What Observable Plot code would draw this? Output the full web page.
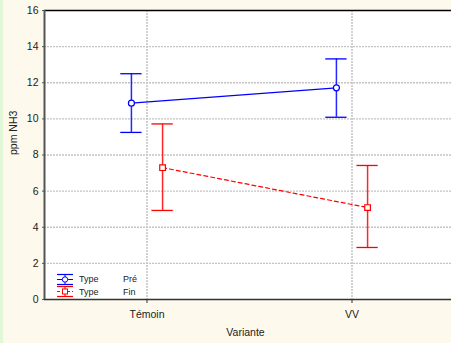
<!DOCTYPE html>
<html>
<head>
<meta charset="utf-8">
<script src="https://cdn.jsdelivr.net/npm/d3@7"></script>
<script src="https://cdn.jsdelivr.net/npm/@observablehq/plot@0.6"></script>
<style>
  body { margin: 0; background: #fdf9ec; }
  #wrap { position: relative; width: 451px; height: 343px; background: #fdf9ec; overflow: hidden; }
  #strip { position: absolute; left: 0; top: 0; width: 3px; height: 343px; background: #e2f7d8; }
  #legend { position: absolute; left: 56px; top: 273px; font: 9px "Liberation Sans", Arial, sans-serif; color: #222; }
  #legend .row { display: flex; align-items: center; height: 12.5px; }
  #legend .t1 { margin-left: 5px; width: 44px; }
</style>
</head>
<body>
<div id="wrap"><div id="strip"></div></div>
<script>
const categories = ["Témoin", "VV"];
const types = ["Pré", "Fin"];
const preMean = [10.87, 11.72];
const preLow = [9.25, 10.09];
const preHigh = [12.50, 13.32];
const finMean = [7.30, 5.09];
const finLow = [4.93, 2.88];
const finHigh = [9.72, 7.42];
const yTicks = [0, 2, 4, 6, 8, 10, 12, 14, 16];

const colors = {"Pré": "#0000ff", "Fin": "#ff0000"};
const offset = {"Pré": -0.076, "Fin": 0.076};
const cap = 0.052;

function series(type, mean, lo, hi) {
  return categories.map((c, i) => ({type, cat: c, i, x: i + offset[type], mean: mean[i], lo: lo[i], hi: hi[i]}));
}
const pre = series("Pré", preMean, preLow, preHigh);
const fin = series("Fin", finMean, finLow, finHigh);

function errorBars(data, color) {
  return [
    Plot.ruleX(data, {x: "x", y1: "lo", y2: "hi", stroke: color, strokeWidth: 1.5, strokeOpacity: 0.85}),
    Plot.ruleY(data, {y: "hi", x1: d => d.x - cap, x2: d => d.x + cap, stroke: color, strokeWidth: 1.3}),
    Plot.ruleY(data, {y: "lo", x1: d => d.x - cap, x2: d => d.x + cap, stroke: color, strokeWidth: 1.3})
  ];
}

const chart = Plot.plot({
  width: 451,
  height: 343,
  marginLeft: 44,
  marginTop: 10,
  marginBottom: 44,
  marginRight: 0,
  style: {background: "transparent", fontFamily: "'Liberation Sans', Arial, sans-serif", fontSize: "10px", color: "#222"},
  x: {type: "linear", domain: [-0.5, 1.5], range: [44, 454], axis: null},
  y: {domain: [0, 16], axis: null},
  marks: [
    Plot.frame({fill: "white", stroke: "none"}),
    Plot.gridY(yTicks.filter(d => d > 0 && d < 16), {stroke: "#c4c4c4", strokeOpacity: 1, strokeDasharray: "2,1", strokeWidth: 1.3}),
    Plot.gridX([0, 1], {stroke: "#c4c4c4", strokeOpacity: 1, strokeDasharray: "2,1", strokeWidth: 1.5}),
    Plot.ruleY([16], {stroke: "#000", strokeWidth: 1.5}),
    Plot.ruleY([0], {stroke: "#333", strokeWidth: 1.5}),
    Plot.ruleX([-0.5], {stroke: "#555", strokeWidth: 2}),
    Plot.axisY(yTicks, {tickSize: 2, tickPadding: 4, label: null, stroke: "#555", fontSize: 10.5}),
    Plot.axisX([0, 1], {tickSize: 4, tickPadding: 7, tickFormat: i => categories[i], label: null, stroke: "#333", fontSize: 10.5}),
    Plot.text(["ppm NH3"], {frameAnchor: "left", dx: -31, dy: 0, rotate: -90, fontSize: 10.5, fill: "#222"}),
    Plot.text(["Variante"], {x: 0.5, y: 0, dy: 33, dx: -4, fontSize: 10.5, fill: "#222", textAnchor: "middle"}),
    Plot.line(pre, {x: "x", y: "mean", stroke: colors["Pré"], strokeWidth: 1.2}),
    Plot.line(fin, {x: "x", y: "mean", stroke: colors["Fin"], strokeWidth: 1.2, strokeDasharray: "4,3"}),
    ...errorBars(pre, colors["Pré"]),
    ...errorBars(fin, colors["Fin"]),
    Plot.dot(pre, {x: "x", y: "mean", r: 3, symbol: "circle", stroke: colors["Pré"], fill: "white", strokeWidth: 1.2}),
    Plot.dot(fin, {x: "x", y: "mean", r: 3.2, symbol: "square", stroke: colors["Fin"], fill: "white", strokeWidth: 1.2})
  ]
});
document.getElementById("wrap").appendChild(chart);
chart.style.position = "absolute";
chart.style.left = "0";
chart.style.top = "0";

const legend = document.createElement("div");
legend.id = "legend";
types.forEach(t => {
  const row = document.createElement("div");
  row.className = "row";
  const c = colors[t];
  const dash = t === "Fin" ? 'stroke-dasharray="3,2"' : "";
  const marker = t === "Pré"
    ? `<circle cx="9" cy="6.5" r="2.7" fill="white" stroke="${c}"/>`
    : `<rect x="6.5" y="4" width="5" height="5" fill="white" stroke="${c}"/>`;
  row.innerHTML = `<svg width="18" height="13" style="overflow:visible">
    <line x1="1" x2="17" y1="1.5" y2="1.5" stroke="${c}" stroke-width="1.2"/>
    <line x1="1" x2="17" y1="11.5" y2="11.5" stroke="${c}" stroke-width="1.2"/>
    <line x1="9" x2="9" y1="1.5" y2="11.5" stroke="${c}"/>
    <line x1="1" x2="17" y1="6.5" y2="6.5" stroke="${c}" ${dash}/>
    ${marker}</svg><span class="t1">Type</span><span>${t}</span>`;
  legend.appendChild(row);
});
document.getElementById("wrap").appendChild(legend);
</script>
</body>
</html>
